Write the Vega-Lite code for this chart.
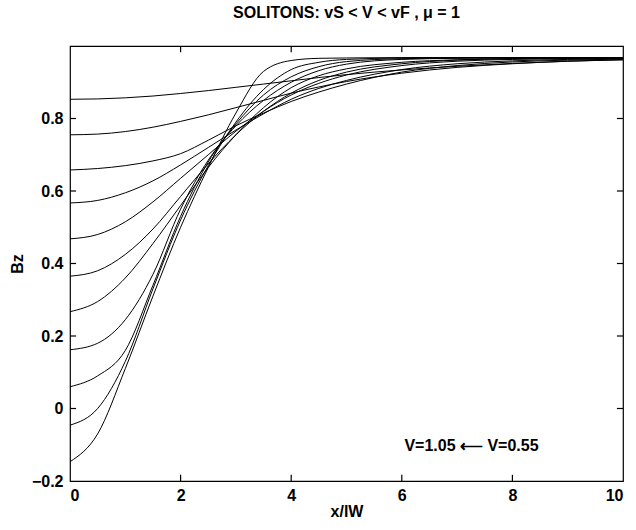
{
 "$schema": "https://vega.github.io/schema/vega-lite/v6.json",
 "width": 553, "height": 435,
 "autosize": {"type": "none"},
 "padding": {"left": 70, "top": 46, "right": 13, "bottom": 49},
 "background": "white",
 "config": {"view": {"stroke": "black", "strokeWidth": 1.2}, "font": "Liberation Sans"},
 "title": {"text": "SOLITONS: vS < V < vF , μ = 1", "fontSize": 16, "fontWeight": "bold", "font": "Liberation Sans", "color": "black", "offset": 24, "anchor": "middle"},
 "datasets": {
  "curves": [
   {"c":1,"x":0,"y":0.853},{"c":1,"x":0.5,"y":0.854},{"c":1,"x":1,"y":0.857},{"c":1,"x":1.5,"y":0.862},{"c":1,"x":2,"y":0.869},{"c":1,"x":2.5,"y":0.877},{"c":1,"x":3,"y":0.886},{"c":1,"x":3.5,"y":0.895},{"c":1,"x":4,"y":0.904},{"c":1,"x":4.5,"y":0.913},{"c":1,"x":5,"y":0.921},{"c":1,"x":6,"y":0.934},{"c":1,"x":7,"y":0.944},{"c":1,"x":8,"y":0.952},{"c":1,"x":9,"y":0.958},{"c":1,"x":10,"y":0.962},
   {"c":2,"x":0,"y":0.755},{"c":2,"x":0.5,"y":0.757},{"c":2,"x":1,"y":0.764},{"c":2,"x":1.5,"y":0.776},{"c":2,"x":2,"y":0.792},{"c":2,"x":2.5,"y":0.810},{"c":2,"x":3,"y":0.830},{"c":2,"x":3.5,"y":0.850},{"c":2,"x":4,"y":0.870},{"c":2,"x":4.5,"y":0.887},{"c":2,"x":5,"y":0.902},{"c":2,"x":6,"y":0.925},{"c":2,"x":7,"y":0.941},{"c":2,"x":8,"y":0.951},{"c":2,"x":9,"y":0.958},{"c":2,"x":10,"y":0.962},
   {"c":3,"x":0,"y":0.658},{"c":3,"x":0.5,"y":0.662},{"c":3,"x":1,"y":0.670},{"c":3,"x":1.5,"y":0.683},{"c":3,"x":2,"y":0.703},{"c":3,"x":2.5,"y":0.740},{"c":3,"x":3,"y":0.780},{"c":3,"x":3.5,"y":0.815},{"c":3,"x":4,"y":0.847},{"c":3,"x":4.5,"y":0.873},{"c":3,"x":5,"y":0.895},{"c":3,"x":6,"y":0.928},{"c":3,"x":7,"y":0.946},{"c":3,"x":8,"y":0.956},{"c":3,"x":9,"y":0.961},{"c":3,"x":10,"y":0.964},
   {"c":4,"x":0,"y":0.567},{"c":4,"x":0.5,"y":0.574},{"c":4,"x":1,"y":0.595},{"c":4,"x":1.5,"y":0.628},{"c":4,"x":2,"y":0.672},{"c":4,"x":2.5,"y":0.720},{"c":4,"x":3,"y":0.768},{"c":4,"x":3.5,"y":0.813},{"c":4,"x":4,"y":0.853},{"c":4,"x":4.5,"y":0.883},{"c":4,"x":5,"y":0.905},{"c":4,"x":6,"y":0.935},{"c":4,"x":7,"y":0.951},{"c":4,"x":8,"y":0.959},{"c":4,"x":9,"y":0.963},{"c":4,"x":10,"y":0.965},
   {"c":5,"x":0,"y":0.468},{"c":5,"x":0.5,"y":0.480},{"c":5,"x":1,"y":0.515},{"c":5,"x":1.5,"y":0.570},{"c":5,"x":2,"y":0.635},{"c":5,"x":2.5,"y":0.700},{"c":5,"x":3,"y":0.765},{"c":5,"x":3.5,"y":0.820},{"c":5,"x":4,"y":0.865},{"c":5,"x":4.5,"y":0.897},{"c":5,"x":5,"y":0.920},{"c":5,"x":6,"y":0.946},{"c":5,"x":7,"y":0.958},{"c":5,"x":8,"y":0.963},{"c":5,"x":9,"y":0.965},{"c":5,"x":10,"y":0.966},
   {"c":6,"x":0,"y":0.365},{"c":6,"x":0.5,"y":0.380},{"c":6,"x":1,"y":0.425},{"c":6,"x":1.5,"y":0.495},{"c":6,"x":2,"y":0.585},{"c":6,"x":2.5,"y":0.675},{"c":6,"x":3,"y":0.755},{"c":6,"x":3.5,"y":0.820},{"c":6,"x":4,"y":0.870},{"c":6,"x":4.5,"y":0.905},{"c":6,"x":5,"y":0.928},{"c":6,"x":6,"y":0.951},{"c":6,"x":7,"y":0.961},{"c":6,"x":8,"y":0.965},{"c":6,"x":9,"y":0.966},{"c":6,"x":10,"y":0.967},
   {"c":7,"x":0,"y":0.267},{"c":7,"x":0.5,"y":0.295},{"c":7,"x":1,"y":0.360},{"c":7,"x":1.5,"y":0.455},{"c":7,"x":2,"y":0.560},{"c":7,"x":2.5,"y":0.665},{"c":7,"x":3,"y":0.755},{"c":7,"x":3.5,"y":0.830},{"c":7,"x":4,"y":0.885},{"c":7,"x":4.5,"y":0.918},{"c":7,"x":5,"y":0.937},{"c":7,"x":6,"y":0.955},{"c":7,"x":7,"y":0.962},{"c":7,"x":8,"y":0.965},{"c":7,"x":9,"y":0.966},{"c":7,"x":10,"y":0.967},
   {"c":8,"x":0,"y":0.162},{"c":8,"x":0.5,"y":0.180},{"c":8,"x":1,"y":0.245},{"c":8,"x":1.5,"y":0.370},{"c":8,"x":2,"y":0.550},{"c":8,"x":2.5,"y":0.685},{"c":8,"x":3,"y":0.780},{"c":8,"x":3.5,"y":0.850},{"c":8,"x":4,"y":0.900},{"c":8,"x":4.5,"y":0.932},{"c":8,"x":5,"y":0.950},{"c":8,"x":6,"y":0.963},{"c":8,"x":7,"y":0.966},{"c":8,"x":8,"y":0.967},{"c":8,"x":9,"y":0.968},{"c":8,"x":10,"y":0.968},
   {"c":9,"x":0,"y":0.060},{"c":9,"x":0.5,"y":0.090},{"c":9,"x":1,"y":0.160},{"c":9,"x":1.5,"y":0.340},{"c":9,"x":2,"y":0.530},{"c":9,"x":2.5,"y":0.680},{"c":9,"x":3,"y":0.785},{"c":9,"x":3.5,"y":0.865},{"c":9,"x":4,"y":0.915},{"c":9,"x":4.5,"y":0.943},{"c":9,"x":5,"y":0.957},{"c":9,"x":6,"y":0.965},{"c":9,"x":7,"y":0.967},{"c":9,"x":8,"y":0.968},{"c":9,"x":9,"y":0.968},{"c":9,"x":10,"y":0.968},
   {"c":10,"x":0,"y":-0.046},{"c":10,"x":0.5,"y":0.000},{"c":10,"x":1,"y":0.130},{"c":10,"x":1.5,"y":0.330},{"c":10,"x":2,"y":0.520},{"c":10,"x":2.5,"y":0.670},{"c":10,"x":3,"y":0.790},{"c":10,"x":3.5,"y":0.880},{"c":10,"x":4,"y":0.935},{"c":10,"x":4.5,"y":0.955},{"c":10,"x":5,"y":0.963},{"c":10,"x":6,"y":0.967},{"c":10,"x":7,"y":0.968},{"c":10,"x":8,"y":0.968},{"c":10,"x":9.25,"y":0.968},
   {"c":11,"x":0,"y":-0.147},{"c":11,"x":0.5,"y":-0.070},{"c":11,"x":1,"y":0.110},{"c":11,"x":1.5,"y":0.310},{"c":11,"x":2,"y":0.500},{"c":11,"x":2.5,"y":0.665},{"c":11,"x":3,"y":0.815},{"c":11,"x":3.5,"y":0.930},{"c":11,"x":4,"y":0.960},{"c":11,"x":4.5,"y":0.966},{"c":11,"x":5,"y":0.967},{"c":11,"x":6,"y":0.968},{"c":11,"x":7,"y":0.968},{"c":11,"x":8,"y":0.968},{"c":11,"x":9.25,"y":0.968}
  ],
  "xticks": [{"v": 2}, {"v": 4}, {"v": 6}, {"v": 8}],
  "yticks": [{"v": 0}, {"v": 0.2}, {"v": 0.4}, {"v": 0.6}, {"v": 0.8}],
  "note": [{"x": 7.26, "y": -0.103, "t": "V=1.05 ⟵ V=0.55"}]
 },
 "layer": [
  {
   "data": {"name": "curves"},
   "mark": {"type": "line", "color": "black", "strokeWidth": 1, "interpolate": "monotone", "clip": true},
   "encoding": {
    "x": {"field": "x", "type": "quantitative", "scale": {"domain": [0, 10], "nice": false, "zero": false},
     "axis": {"orient": "bottom", "values": [0, 2, 4, 6, 8, 10], "format": "d", "domain": false, "ticks": false, "tickSize": 0, "grid": false, "labelPadding": 6, "labelFontSize": 16, "labelFontWeight": "bold", "labelColor": "black", "labelFont": "Liberation Sans", "title": "x/lW", "titleFontSize": 16, "titleFontWeight": "bold", "titleColor": "black", "titleFont": "Liberation Sans", "titlePadding": 0}},
    "y": {"field": "y", "type": "quantitative", "scale": {"domain": [-0.2, 1.0], "nice": false, "zero": false},
     "axis": {"orient": "left", "values": [-0.2, 0, 0.2, 0.4, 0.6, 0.8], "format": "~g", "domain": false, "ticks": false, "tickSize": 0, "grid": false, "labelPadding": 7, "labelFontSize": 16, "labelFontWeight": "bold", "labelColor": "black", "labelFont": "Liberation Sans", "title": "Bz", "titleFontSize": 16, "titleFontWeight": "bold", "titleColor": "black", "titleFont": "Liberation Sans", "titlePadding": 6}},
    "detail": {"field": "c", "type": "nominal"}
   }
  },
  {
   "data": {"name": "xticks"},
   "mark": {"type": "rule", "color": "black", "strokeWidth": 1.2},
   "encoding": {"x": {"field": "v", "type": "quantitative"}, "y": {"datum": -0.2}, "y2": {"datum": -0.183}}
  },
  {
   "data": {"name": "xticks"},
   "mark": {"type": "rule", "color": "black", "strokeWidth": 1.2},
   "encoding": {"x": {"field": "v", "type": "quantitative"}, "y": {"datum": 1.0}, "y2": {"datum": 0.983}}
  },
  {
   "data": {"name": "yticks"},
   "mark": {"type": "rule", "color": "black", "strokeWidth": 1.2},
   "encoding": {"y": {"field": "v", "type": "quantitative"}, "x": {"datum": 0}, "x2": {"datum": 0.11}}
  },
  {
   "data": {"name": "yticks"},
   "mark": {"type": "rule", "color": "black", "strokeWidth": 1.2},
   "encoding": {"y": {"field": "v", "type": "quantitative"}, "x": {"datum": 10}, "x2": {"datum": 9.89}}
  },
  {
   "data": {"name": "note"},
   "mark": {"type": "text", "fontSize": 16, "fontWeight": "bold", "font": "Liberation Sans", "color": "black"},
   "encoding": {
    "x": {"field": "x", "type": "quantitative"},
    "y": {"field": "y", "type": "quantitative"},
    "text": {"field": "t", "type": "nominal"}
   }
  }
 ]
}
